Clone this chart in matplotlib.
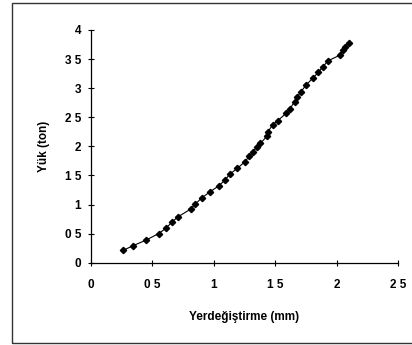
import matplotlib.pyplot as plt
from matplotlib.patches import Rectangle

# displacement (mm) and load (ton)
disp = [0.26, 0.34, 0.45, 0.55, 0.61, 0.66, 0.71, 0.81, 0.85, 0.90,
        0.97, 1.04, 1.09, 1.13, 1.19, 1.25, 1.29, 1.32, 1.35, 1.38,
        1.43, 1.44, 1.48, 1.52, 1.59, 1.62, 1.66, 1.68, 1.71, 1.75,
        1.81, 1.85, 1.89, 1.93, 2.03, 2.05, 2.07, 2.10]
load = [0.21, 0.29, 0.39, 0.50, 0.59, 0.70, 0.79, 0.92, 1.01, 1.11,
        1.22, 1.32, 1.42, 1.52, 1.62, 1.73, 1.83, 1.91, 1.99, 2.05,
        2.17, 2.25, 2.37, 2.44, 2.57, 2.65, 2.77, 2.85, 2.94, 3.05,
        3.18, 3.27, 3.37, 3.47, 3.57, 3.66, 3.71, 3.78]

xticks = [0, 0.5, 1, 1.5, 2, 2.5]
xlabels = ['0', '0 5', '1', '1 5', '2', '2 5']
yticks = [0, 0.5, 1, 1.5, 2, 2.5, 3, 3.5, 4]
ylabels = ['0', '0 5', '1', '1 5', '2', '2 5', '3', '3 5', '4']

plt.rcParams['font.family'] = ['Liberation Sans', 'DejaVu Sans']

fig = plt.figure(figsize=(4.12, 3.45), dpi=100)
ax = fig.add_axes([0.221, 0.2386, 0.745, 0.6745])

ax.plot(disp, load, color='black', linewidth=0.8, marker='D',
        markersize=3.2, markerfacecolor='black', markeredgecolor='black')

ax.set_xlim(0, 2.5)
ax.set_ylim(0, 4)
ax.set_xticks(xticks)
ax.set_xticklabels(xlabels)
ax.set_yticks(yticks)
ax.set_yticklabels(ylabels)
ax.tick_params(direction='inout', length=4, width=0.8, labelsize=8.5)
ax.tick_params(axis='x', pad=10)
ax.tick_params(axis='y', pad=5)
for lbl in ax.get_xticklabels() + ax.get_yticklabels():
    lbl.set_fontweight('bold')

for side in ['top', 'right']:
    ax.spines[side].set_visible(False)
for side in ['left', 'bottom']:
    ax.spines[side].set_linewidth(0.9)

ax.set_xlabel('Yerdeğiştirme (mm)', fontsize=8.5, fontweight='bold', labelpad=14)
ax.set_ylabel('Yük (ton)', fontsize=8.5, fontweight='bold', labelpad=11)

# outer frame of the scanned figure
fig.patches.append(Rectangle((0.03, 0.006), 0.99, 0.985, transform=fig.transFigure,
                             fill=False, edgecolor='#333333', linewidth=1.0))

fig.savefig('out.png', dpi=100)
